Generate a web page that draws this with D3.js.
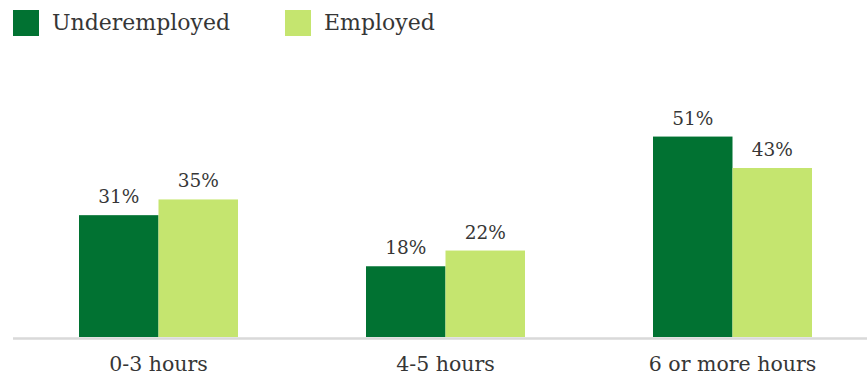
<!DOCTYPE html>
<html>
<head>
<meta charset="utf-8">
<script src="https://cdn.jsdelivr.net/npm/d3@7"></script>
<style>
  html, body { margin: 0; padding: 0; background: #fff; }
  svg { display: block; }
  text { font-family: "DejaVu Serif", Georgia, serif; fill: #363636; }
</style>
</head>
<body>
<svg id="chart" width="867" height="380"></svg>
<script>
// Hours categories and the share of each group per category (percent)
const categories = ["0-3 hours", "4-5 hours", "6 or more hours"];
const seriesNames = ["Underemployed", "Employed"];
const underemployed = [31, 18, 51];
const employed = [35, 22, 43];
const seriesColors = ["#017232", "#c5e56f"];

const rows = categories.map((c, i) => ({
  category: c,
  values: [
    { series: seriesNames[0], value: underemployed[i] },
    { series: seriesNames[1], value: employed[i] }
  ]
}));

const svg = d3.select("#chart");
const baseY = 337;

const x0 = d3.scaleBand()
  .domain(categories)
  .range([15, 876])
  .paddingInner(0.446)
  .paddingOuter(0.223);

const x1 = d3.scaleBand()
  .domain(seriesNames)
  .range([0, x0.bandwidth()])
  .padding(0);

const y = d3.scaleLinear()
  .domain([0, 100])
  .range([baseY, baseY - 393]);

const color = d3.scaleOrdinal().domain(seriesNames).range(seriesColors);

// Baseline
svg.append("line")
  .attr("x1", 13).attr("x2", 867)
  .attr("y1", baseY + 1.5).attr("y2", baseY + 1.5)
  .attr("stroke", "#d9d9d9")
  .attr("stroke-width", 2.5);

// Bars
const groups = svg.append("g").selectAll("g")
  .data(rows)
  .join("g")
  .attr("transform", d => `translate(${x0(d.category)},0)`);

groups.selectAll("rect")
  .data(d => d.values)
  .join("rect")
  .attr("x", d => x1(d.series))
  .attr("y", d => y(d.value))
  .attr("width", x1.bandwidth())
  .attr("height", d => y(0) - y(d.value))
  .attr("fill", d => color(d.series));

// Value labels
groups.selectAll("text.value")
  .data(d => d.values)
  .join("text")
  .attr("class", "value")
  .attr("x", d => x1(d.series) + x1.bandwidth() / 2)
  .attr("y", d => y(d.value) - 12)
  .attr("text-anchor", "middle")
  .style("font-size", "18.5px")
  .text(d => d.value + "%");

// Category axis labels
const xAxis = d3.axisBottom(x0).tickSize(0).tickPadding(0);
const axisG = svg.append("g")
  .attr("transform", `translate(0,${baseY})`)
  .call(xAxis);
axisG.select(".domain").remove();
axisG.selectAll("text")
  .attr("dy", null)
  .attr("y", 34)
  .style("font-family", "'DejaVu Serif', Georgia, serif")
  .style("font-size", "20.5px")
  .style("fill", "#363636");

// Legend
const legendX = [13, 285];
const legend = svg.append("g").selectAll("g")
  .data(seriesNames)
  .join("g")
  .attr("transform", (d, i) => `translate(${legendX[i]},10)`);

legend.append("rect")
  .attr("width", 26)
  .attr("height", 26)
  .attr("fill", d => color(d));

legend.append("text")
  .attr("x", 39)
  .attr("y", 20)
  .style("font-size", "22px")
  .text(d => d);
</script>
</body>
</html>
